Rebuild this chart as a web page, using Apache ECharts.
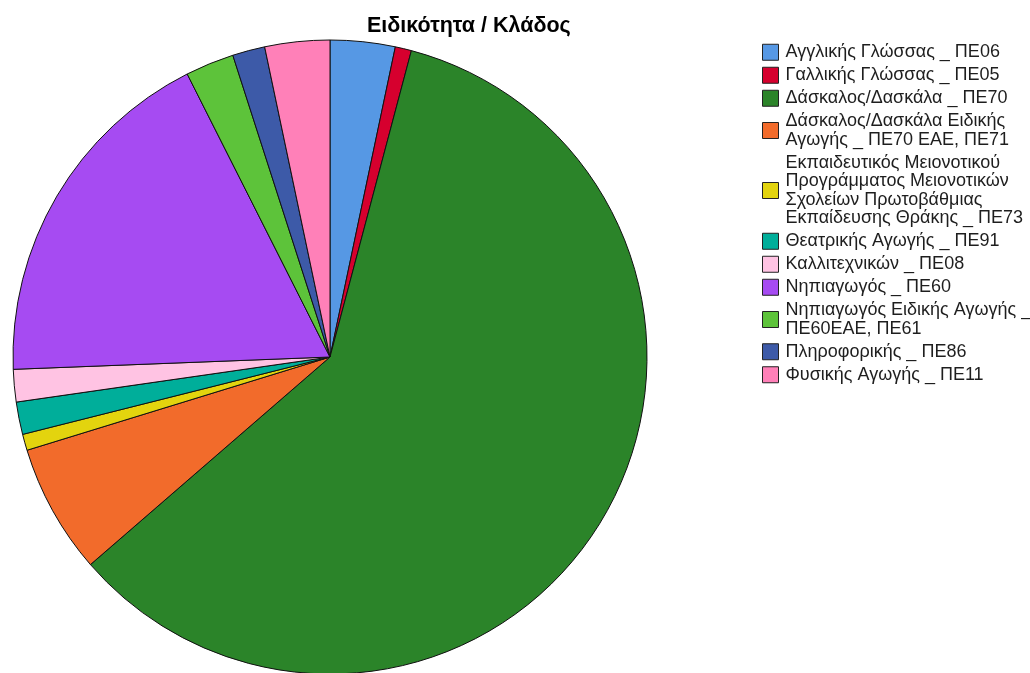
<!DOCTYPE html>
<html>
<head>
<meta charset="utf-8">
<title>Ειδικότητα / Κλάδος</title>
<script src="https://cdn.jsdelivr.net/npm/echarts@6/dist/echarts.min.js"></script>
<style>
  html, body { margin: 0; padding: 0; background: #fff; }
  #chart { width: 1030px; height: 673px; }
</style>
</head>
<body>
<div id="chart"></div>
<script>
// Specialty / branch of respondents (counts)
const categories = [
  'Αγγλικής Γλώσσας _ ΠΕ06',
  'Γαλλικής Γλώσσας _ ΠΕ05',
  'Δάσκαλος/Δασκάλα _ ΠΕ70',
  'Δάσκαλος/Δασκάλα Ειδικής\nΑγωγής _ ΠΕ70 ΕΑΕ, ΠΕ71',
  'Εκπαιδευτικός Μειονοτικού\nΠρογράμματος Μειονοτικών\nΣχολείων Πρωτοβάθμιας\nΕκπαίδευσης Θράκης _ ΠΕ73',
  'Θεατρικής Αγωγής _ ΠΕ91',
  'Καλλιτεχνικών _ ΠΕ08',
  'Νηπιαγωγός _ ΠΕ60',
  'Νηπιαγωγός Ειδικής Αγωγής _\nΠΕ60ΕΑΕ, ΠΕ61',
  'Πληροφορικής _ ΠΕ86',
  'Φυσικής Αγωγής _ ΠΕ11'
];
const counts = [4, 1, 72, 8, 1, 2, 2, 22, 3, 2, 4];
const colors = [
  '#5698E4', '#D6002E', '#2B8429', '#F26B2B', '#E3D40E', '#00AE9A',
  '#FFC3E3', '#A64BF2', '#5DC33A', '#3D5AA8', '#FF80B8'
];

const FONT = '"Liberation Sans", Arial, sans-serif';

const chart = echarts.init(document.getElementById('chart'), null, { renderer: 'canvas' });

chart.setOption({
  animation: false,
  backgroundColor: '#ffffff',
  color: colors,
  title: {
    text: 'Ειδικότητα / Κλάδος',
    left: 362,
    top: 10,
    textStyle: { fontFamily: FONT, fontSize: 21.5, fontWeight: 'bold', color: '#000' }
  },
  legend: {
    orient: 'vertical',
    left: 762,
    top: 43,
    padding: 0,
    itemWidth: 16,
    itemHeight: 16,
    itemGap: 4.5,
    icon: 'rect',
    selectedMode: false,
    itemStyle: { borderColor: '#222', borderWidth: 1 },
    textStyle: { fontFamily: FONT, fontSize: 18, lineHeight: 18.5, color: '#1e1e1e', padding: [0, 0, 0, 2] },
    data: categories
  },
  series: [{
    type: 'pie',
    center: [330, 357],
    radius: 317,
    startAngle: 90,
    clockwise: true,
    label: { show: false },
    labelLine: { show: false },
    emphasis: { disabled: true },
    itemStyle: { borderColor: '#111', borderWidth: 1 },
    data: categories.map((name, i) => ({ name: name, value: counts[i] }))
  }]
});
</script>
</body>
</html>
